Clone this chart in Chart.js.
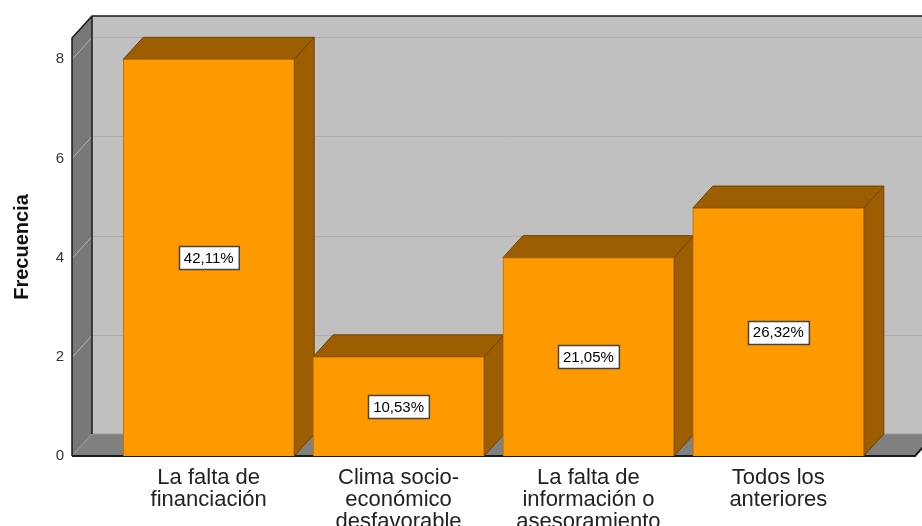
<!DOCTYPE html>
<html>
<head>
<meta charset="utf-8">
<script src="https://cdn.jsdelivr.net/npm/chart.js@4"></script>
<style>
  body { margin: 0; background: #fff; }
  canvas { display: block; }
</style>
</head>
<body>
<canvas id="chart" width="922" height="526"></canvas>
<script>
const categories = [
  ['La falta de', 'financiación'],
  ['Clima socio-', 'económico', 'desfavorable'],
  ['La falta de', 'información o', 'asesoramiento'],
  ['Todos los', 'anteriores'],
];
const frequencies = [8, 2, 4, 5];
const yTicks = [0, 2, 4, 6, 8];

const DX = 20; // depth of the 3d box, to the right
const DY = 22; // depth of the 3d box, upwards
const frontColor = '#ff9900';
const sideColor = '#9c5e00';
const total = frequencies.reduce((a, b) => a + b, 0);
const FONT = '"Liberation Sans", Arial, sans-serif';

// walls, floor and grid behind everything
const walls = {
  id: 'walls',
  beforeDraw(chart) {
    const { ctx, chartArea: a, scales: { y } } = chart;
    const top = a.top, bottom = a.bottom, left = a.left, right = a.right;
    ctx.save();
    // back wall
    ctx.fillStyle = '#c0c0c0';
    ctx.fillRect(left + DX, top - DY, right - left, bottom - top);
    // left wall
    ctx.fillStyle = '#787878';
    ctx.beginPath();
    ctx.moveTo(left, top); ctx.lineTo(left + DX, top - DY);
    ctx.lineTo(left + DX, bottom - DY); ctx.lineTo(left, bottom);
    ctx.closePath(); ctx.fill();
    // floor
    ctx.fillStyle = '#808080';
    ctx.beginPath();
    ctx.moveTo(left, bottom); ctx.lineTo(right, bottom);
    ctx.lineTo(right + DX, bottom - DY); ctx.lineTo(left + DX, bottom - DY);
    ctx.closePath(); ctx.fill();
    // grid lines
    ctx.lineWidth = 1;
    yTicks.forEach(v => {
      if (v === 0) return;
      const py = Math.round(y.getPixelForValue(v)) + 0.5;
      ctx.strokeStyle = '#b4b4b4';
      ctx.beginPath(); ctx.moveTo(left, py); ctx.lineTo(left + DX, py - DY); ctx.stroke();
      ctx.strokeStyle = '#afafaf';
      ctx.beginPath(); ctx.moveTo(left + DX, py - DY); ctx.lineTo(right + DX, py - DY); ctx.stroke();
    });
    ctx.strokeStyle = '#9a9a9a';
    ctx.beginPath(); ctx.moveTo(left, bottom); ctx.lineTo(left + DX, bottom - DY);
    ctx.lineTo(right + DX, bottom - DY); ctx.stroke();
    // dark edges
    ctx.strokeStyle = '#1a1a1a';
    ctx.lineWidth = 1.5;
    ctx.beginPath();
    ctx.moveTo(left, bottom); ctx.lineTo(left, top); ctx.lineTo(left + DX, top - DY);
    ctx.lineTo(right + DX, top - DY);
    ctx.moveTo(left + DX, top - DY); ctx.lineTo(left + DX, bottom - DY);
    ctx.stroke();
    ctx.lineWidth = 2;
    ctx.beginPath();
    ctx.moveTo(left, bottom); ctx.lineTo(right, bottom); ctx.lineTo(right + DX, bottom - DY);
    ctx.stroke();
    ctx.restore();
  },
  // top and side faces of the bars, drawn before the front faces
  beforeDatasetsDraw(chart) {
    const { ctx } = chart;
    ctx.save();
    ctx.fillStyle = sideColor;
    ctx.strokeStyle = '#6e4200';
    ctx.lineWidth = 1;
    chart.getDatasetMeta(0).data.forEach(bar => {
      const l = bar.x - bar.width / 2, r = bar.x + bar.width / 2;
      const t = bar.y, b = bar.base;
      ctx.beginPath();
      ctx.moveTo(l, t); ctx.lineTo(l + DX, t - DY); ctx.lineTo(r + DX, t - DY);
      ctx.lineTo(r + DX, b - DY); ctx.lineTo(r, b); ctx.lineTo(r, t);
      ctx.closePath();
      ctx.fill(); ctx.stroke();
      ctx.beginPath(); ctx.moveTo(r, t); ctx.lineTo(r + DX, t - DY); ctx.stroke();
    });
    ctx.restore();
  },
  // percentage boxes
  afterDatasetsDraw(chart) {
    const { ctx } = chart;
    ctx.save();
    ctx.font = '15px ' + FONT;
    ctx.textAlign = 'center';
    ctx.textBaseline = 'middle';
    chart.getDatasetMeta(0).data.forEach((bar, i) => {
      const txt = (frequencies[i] / total * 100).toFixed(2).replace('.', ',') + '%';
      const cy = (bar.y + bar.base) / 2;
      const w = ctx.measureText(txt).width + 10, h = 23;
      const bx = Math.round(bar.x - w / 2) + 0.5, by = Math.round(cy - h / 2) + 0.5;
      ctx.fillStyle = '#fff';
      ctx.fillRect(bx, by, w, h);
      ctx.strokeStyle = '#444';
      ctx.lineWidth = 1.5;
      ctx.strokeRect(bx, by, w, h);
      ctx.fillStyle = '#000';
      ctx.fillText(txt, bar.x, cy + 1);
    });
    ctx.restore();
  },
};

new Chart(document.getElementById('chart'), {
  type: 'bar',
  data: {
    datasets: [{
      data: frequencies.map((v, i) => ({ x: i, y: v })),
      backgroundColor: frontColor,
      borderColor: '#b86f00',
      borderWidth: 1,
      barThickness: 171,
    }],
  },
  options: {
    responsive: false,
    animation: false,
    devicePixelRatio: 1,
    layout: { padding: { top: 38, right: 7, left: 0, bottom: 0 } },
    plugins: { legend: { display: false }, tooltip: { enabled: false } },
    scales: {
      x: {
        type: 'linear',
        offset: false,
        min: -0.72,
        max: 3.72,
        grid: { display: false, drawTicks: false },
        border: { display: false },
        afterBuildTicks: scale => { scale.ticks = categories.map((c, i) => ({ value: i })); },
        afterFit: scale => { scale.height = 70; },
        ticks: {
          autoSkip: false,
          maxRotation: 0,
          padding: 11,
          color: '#222',
          font: { family: FONT, size: 22, lineHeight: 1.0 },
          callback: v => categories[v],
        },
      },
      y: {
        min: 0,
        max: 8.43,
        grid: { display: false, drawTicks: false },
        border: { display: false },
        afterBuildTicks: scale => { scale.ticks = yTicks.map(v => ({ value: v })); },
        afterFit: scale => { scale.width = 72; },
        ticks: {
          padding: 8,
          color: '#333',
          font: { family: FONT, size: 15 },
        },
        title: {
          display: true,
          text: 'Frecuencia',
          color: '#111',
          padding: { top: 10, bottom: 0 },
          font: { family: FONT, size: 20, weight: 'bold' },
        },
      },
    },
  },
  plugins: [walls],
});
</script>
</body>
</html>
